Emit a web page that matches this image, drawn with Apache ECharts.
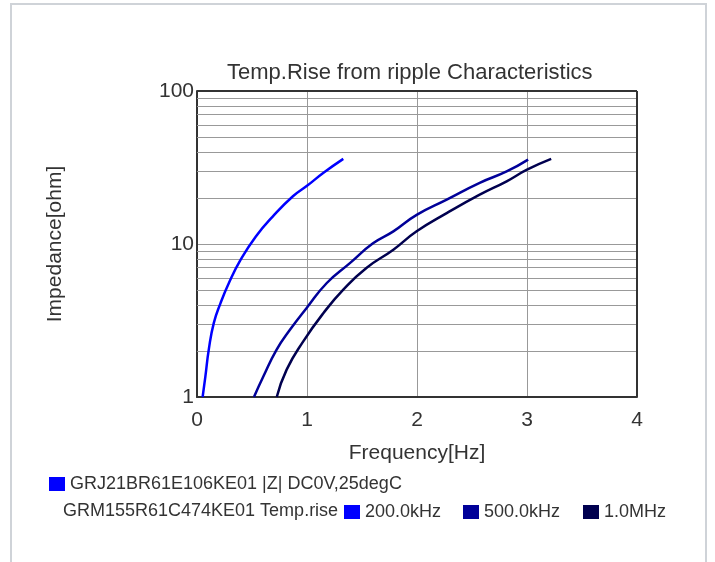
<!DOCTYPE html>
<html>
<head>
<meta charset="utf-8">
<script src="https://cdn.jsdelivr.net/npm/echarts@6/dist/echarts.min.js"></script>
<style>
html,body{margin:0;padding:0;background:#fff;}
#chart{width:715px;height:562px;}
</style>
</head>
<body>
<div id="chart"></div>
<script>
// ---- data ----
const freq200k = [0.051, 0.076, 0.107, 0.153, 0.214, 0.29, 0.397, 0.535, 0.688, 0.872, 1.0, 1.147, 1.33];
const imp200k  = [1.0, 1.36, 2.04, 3.05, 4.11, 5.56, 7.89, 11.2, 15.1, 20.5, 24, 29.1, 36];
const freq500k = [0.518, 0.603, 0.724, 0.845, 0.997, 1.18, 1.39, 1.6, 1.785, 1.997, 2.27, 2.57, 2.815, 3.01];
const imp500k  = [1.0, 1.36, 2.04, 2.75, 3.82, 5.56, 7.5, 10.1, 12.1, 15.5, 19.5, 25.1, 29.8, 35.6];
const freq1M   = [0.725, 0.815, 0.966, 1.15, 1.33, 1.54, 1.785, 1.997, 2.27, 2.57, 2.815, 3.0, 3.22];
const imp1M    = [1.0, 1.51, 2.31, 3.54, 5.03, 6.97, 9.18, 12.1, 15.9, 21, 25.7, 30.6, 36];
const minorGridValues = [2,3,4,5,6,7,8,9,20,30,40,50,60,70,80,90];
const xTicks = [0, 4, 1];           // min, max, interval
const yRange = [1, 100];
const seriesNames = ['200.0kHz', '500.0kHz', '1.0MHz'];
const seriesColors = ['#0000ff', '#000099', '#00004f'];
const refName = 'GRJ21BR61E106KE01 |Z| DC0V,25degC';
const groupLabel = 'GRM155R61C474KE01 Temp.rise';
const titleText = 'Temp.Rise from ripple Characteristics';

const zip = (a, b) => a.map((v, i) => [v, b[i]]);
const FONT = 'Liberation Sans, Arial, sans-serif';
const TXT = '#333';
const legendLeft = [344, 463, 583];

const chart = echarts.init(document.getElementById('chart'), null, {renderer: 'canvas'});
const lines = [[freq200k, imp200k], [freq500k, imp500k], [freq1M, imp1M]].map((d, i) => ({
  name: seriesNames[i],
  type: 'line',
  data: zip(d[0], d[1]),
  smooth: 0.5,
  showSymbol: false,
  symbol: 'none',
  lineStyle: {color: seriesColors[i], width: 2.5},
  itemStyle: {color: seriesColors[i]},
  z: 5
}));

const legendBase = {icon: 'rect', itemWidth: 16, itemHeight: 14, padding: 0,
  textStyle: {fontSize: 18, color: TXT, fontFamily: FONT}};

chart.setOption({
  animation: false,
  backgroundColor: '#fff',
  textStyle: {fontFamily: FONT},
  graphic: [{
    type: 'rect', shape: {x: 11, y: 4, width: 695, height: 570},
    style: {fill: 'none', stroke: '#cfd3d8', lineWidth: 2}, silent: true
  }],
  title: [
    {text: titleText, left: 222, top: 57,
     textStyle: {fontSize: 22, fontWeight: 'normal', color: TXT, fontFamily: FONT}},
    {text: groupLabel, left: 58, top: 497,
     textStyle: {fontSize: 18, fontWeight: 'normal', color: TXT, fontFamily: FONT}}
  ],
  legend: [
    Object.assign({data: [refName], left: 49, top: 475}, legendBase),
    ...seriesNames.map((n, i) => Object.assign({data: [n], left: legendLeft[i], top: 503}, legendBase))
  ],
  grid: {left: 197, right: 78, top: 91, bottom: 165, show: false},
  xAxis: {
    type: 'value', min: xTicks[0], max: xTicks[1], interval: xTicks[2],
    name: 'Frequency[Hz]', nameLocation: 'middle', nameGap: 46,
    nameTextStyle: {fontSize: 21, color: TXT, fontFamily: FONT},
    axisLine: {show: true, onZero: false, lineStyle: {color: '#333', width: 2}},
    axisTick: {show: false},
    axisLabel: {fontSize: 21, color: TXT, margin: 13, fontFamily: FONT},
    splitLine: {show: true, lineStyle: {color: '#999', width: 1}}
  },
  yAxis: {
    type: 'log', logBase: 10, min: yRange[0], max: yRange[1],
    name: 'Impedance[ohm]', nameLocation: 'middle', nameGap: 131,
    nameTextStyle: {fontSize: 21, color: TXT, fontFamily: FONT},
    axisLine: {show: true, lineStyle: {color: '#333', width: 2}},
    axisTick: {show: false},
    axisLabel: {fontSize: 21, color: TXT, margin: 3, fontFamily: FONT},
    splitLine: {show: true, lineStyle: {color: '#999', width: 1}}
  },
  series: [
    {name: refName, type: 'line', data: [], itemStyle: {color: '#0000ff'}, lineStyle: {color: '#0000ff'}},
    ...lines,
    {name: 'minorGrid', type: 'line', data: [], silent: true,
     markLine: {silent: true, symbol: 'none', label: {show: false},
       lineStyle: {color: '#999', width: 1, type: 'solid'},
       data: minorGridValues.map(v => ({yAxis: v}))}},
    {name: 'frame', type: 'line', data: [], silent: true,
     markLine: {silent: true, symbol: 'none', label: {show: false},
       lineStyle: {color: '#333', width: 2, type: 'solid'},
       data: [{yAxis: yRange[1]}, {xAxis: xTicks[1]}]}}
  ]
});
</script>
</body>
</html>
